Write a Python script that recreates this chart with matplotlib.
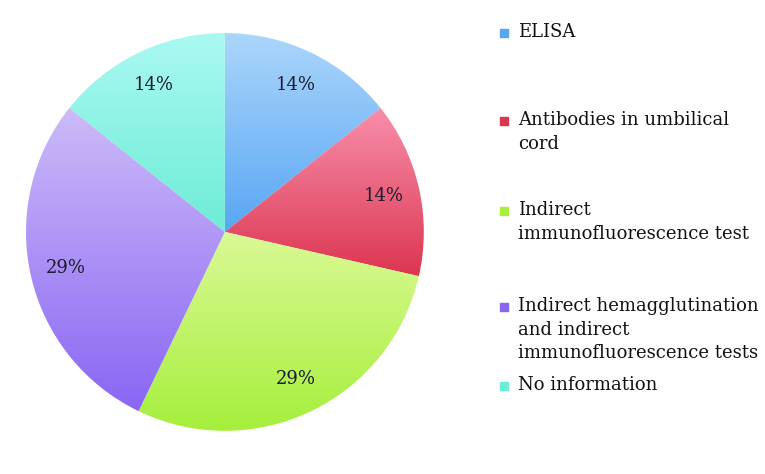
import matplotlib
matplotlib.use('Agg')
import matplotlib.pyplot as plt
import numpy as np
from matplotlib.colors import LinearSegmentedColormap

# data
labels = ['ELISA',
          'Antibodies in umbilical\ncord',
          'Indirect\nimmunofluorescence test',
          'Indirect hemagglutination\nand indirect\nimmunofluorescence tests',
          'No information']
counts = [1, 1, 2, 2, 1]
top_colors = ['#acd6fb', '#f88fab', '#daf995', '#cdbbf8', '#aaf9f1']
bottom_colors = ['#58a6f4', '#dc3650', '#a6ef3c', '#8966f4', '#6decd6']

fig = plt.figure(figsize=(7.65, 4.74), dpi=100)
ax = fig.add_axes([0.034, 0.0907, 0.520, 0.840])

wedges, texts, autotexts = ax.pie(counts, startangle=90, counterclock=False,
                                  colors=bottom_colors, autopct='%.0f%%',
                                  pctdistance=0.82,
                                  wedgeprops=dict(linewidth=0))

# vertical gradient inside each slice
for w, c0, c1 in zip(wedges, top_colors, bottom_colors):
    bb = w.get_path().get_extents(w.get_patch_transform())
    cmap = LinearSegmentedColormap.from_list('g', [c1, c0])
    grad = np.linspace(0, 1, 256).reshape(-1, 1)
    im = ax.imshow(grad, cmap=cmap, origin='lower', aspect='auto',
                   extent=[bb.x0, bb.x1, bb.y0, bb.y1], zorder=w.get_zorder() + 0.5)
    im.set_clip_path(w)
    w.set_facecolor('none')

for t in autotexts:
    t.set_fontfamily('DejaVu Serif')
    t.set_fontsize(13)
    t.set_color('#1c1c30')
    t.set_zorder(5)

ax.set_xlim(-1, 1)
ax.set_ylim(-1, 1)
ax.set_aspect('equal')
ax.axis('off')

# legend on the right
leg_y = [33, 121, 211, 307, 386]
for lab, col, y in zip(labels, bottom_colors, leg_y):
    fig.patches.append(plt.Rectangle((500 / 765, 1 - (y + 4) / 474), 8 / 765, 8 / 474,
                                     transform=fig.transFigure, color=col))
    fig.text(518 / 765, 1 - (y - 10) / 474, lab, fontsize=13, family='DejaVu Serif',
             va='top', ha='left', color='#111111', linespacing=1.4)

fig.savefig('out.png', dpi=100)
